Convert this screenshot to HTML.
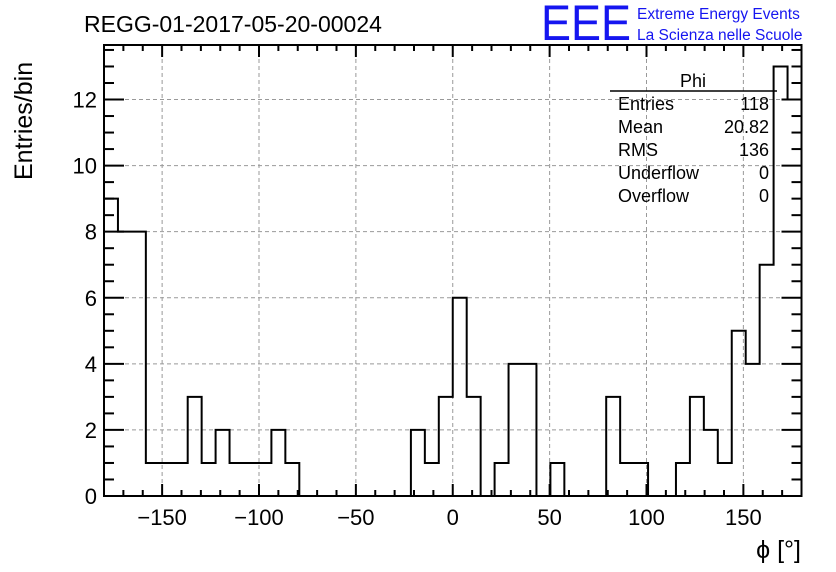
<!DOCTYPE html>
<html><head><meta charset="utf-8"><style>
html,body{margin:0;padding:0;background:#fff;}
svg{display:block;font-family:"Liberation Sans",Arial,sans-serif;}
</style></head><body>
<svg id="chart" width="836" height="572" viewBox="0 0 836 572" xmlns="http://www.w3.org/2000/svg">
<rect width="836" height="572" fill="#fff"/>
<text x="84" y="32" font-size="23">REGG-01-2017-05-20-00024</text>
<text x="541" y="40" font-size="50" fill="#1515f0" textLength="90" lengthAdjust="spacingAndGlyphs">EEE</text>
<text x="637" y="19" font-size="15.5" fill="#1515f0">Extreme Energy Events</text>
<text x="637" y="40" font-size="15.5" fill="#1515f0">La Scienza nelle Scuole</text>
<text transform="translate(32,180) rotate(-90)" font-size="25">Entries/bin</text>
<text x="801" y="558" font-size="25" text-anchor="end">ϕ [°]</text>
<g id="grid"></g>
<g id="bars"></g>
<g id="axes"></g>
<g>
<line x1="610" y1="91" x2="777" y2="91" stroke="#000" stroke-width="1.5"/>
<text x="693" y="87" font-size="18" text-anchor="middle">Phi</text>
<text x="618" y="110" font-size="18">Entries</text><text x="769" y="110" font-size="18" text-anchor="end">118</text>
<text x="618" y="133" font-size="18">Mean</text><text x="769" y="133" font-size="18" text-anchor="end">20.82</text>
<text x="618" y="156" font-size="18">RMS</text><text x="769" y="156" font-size="18" text-anchor="end">136</text>
<text x="618" y="179" font-size="18">Underflow</text><text x="769" y="179" font-size="18" text-anchor="end">0</text>
<text x="618" y="202" font-size="18">Overflow</text><text x="769" y="202" font-size="18" text-anchor="end">0</text>
</g>
</svg>
<script>
const binCounts = [9,8,8,1,1,1,3,1,2,1,1,1,2,1,0,0,0,0,0,0,0,0,2,1,3,6,3,0,1,4,4,0,1,0,0,0,3,1,1,0,0,1,3,2,1,5,4,7,13,12];
const xRange = [-180, 180];
const yRange = [0, 13.65];
const xTicks = [-150,-100,-50,0,50,100,150];
const xTickLabels = ["\u2212150","\u2212100","\u221250","0","50","100","150"];
const yTicks = [0,2,4,6,8,10,12];
const yTickLabels = ["0","2","4","6","8","10","12"];

const L=104,R=801.5,T=45,B=496;
const NS="http://www.w3.org/2000/svg";
function sx(v){return L+(v-xRange[0])/(xRange[1]-xRange[0])*(R-L);}
function sy(v){return B-(v-yRange[0])/(yRange[1]-yRange[0])*(B-T);}
function mk(tag,attrs,parent){const e=document.createElementNS(NS,tag);for(const k in attrs)e.setAttribute(k,attrs[k]);parent.appendChild(e);return e;}
const grid=document.getElementById('grid'),bars=document.getElementById('bars'),axes=document.getElementById('axes');
xTicks.forEach(v=>{const l=mk('line',{x1:sx(v),x2:sx(v),y1:T,y2:B,stroke:'#999','stroke-dasharray':'4,3','stroke-width':1},grid);

});
yTicks.forEach(v=>{if(v===0)return;const l=mk('line',{x1:L,x2:R,y1:sy(v),y2:sy(v),stroke:'#999','stroke-dasharray':'4,3','stroke-width':1},grid);

});
// histogram outline
const n=binCounts.length,w=(xRange[1]-xRange[0])/n;
let d='M'+sx(xRange[0])+','+sy(0);
binCounts.forEach((c,i)=>{const x0=sx(xRange[0]+i*w),x1=sx(xRange[0]+(i+1)*w);d+=' L'+x0+','+sy(c)+' L'+x1+','+sy(c);});
d+=' L'+sx(xRange[1])+','+sy(0);
const p=mk('path',{d:d,fill:'none',stroke:'#000','stroke-width':2},bars);


// frame
const f=mk('rect',{x:L,y:T,width:R-L,height:B-T,fill:'none',stroke:'#000','stroke-width':2},axes);


// x ticks
for(let v=-180;v<=180;v+=10){const maj=(v%50===0);const len=maj?12:6;
mk('line',{x1:sx(v),x2:sx(v),y1:B,y2:B-len,stroke:'#000','stroke-width':2},axes);
mk('line',{x1:sx(v),x2:sx(v),y1:T,y2:T+len,stroke:'#000','stroke-width':2},axes);}
xTicks.forEach((v,i)=>{const t=mk('text',{x:sx(v),y:525,'font-size':22,'text-anchor':'middle'},axes);t.textContent=xTickLabels[i];

});
// y ticks
for(let v=0;v<=13.5;v+=0.5){const maj=(v%2===0);const len=maj?20:10;
mk('line',{x1:L,x2:L+len,y1:sy(v),y2:sy(v),stroke:'#000','stroke-width':2},axes);
mk('line',{x1:R,x2:R-len,y1:sy(v),y2:sy(v),stroke:'#000','stroke-width':2},axes);}
yTicks.forEach((v,i)=>{const t=mk('text',{x:97,y:sy(v)+8,'font-size':22,'text-anchor':'end'},axes);t.textContent=yTickLabels[i];

});
</script>
</body></html>
